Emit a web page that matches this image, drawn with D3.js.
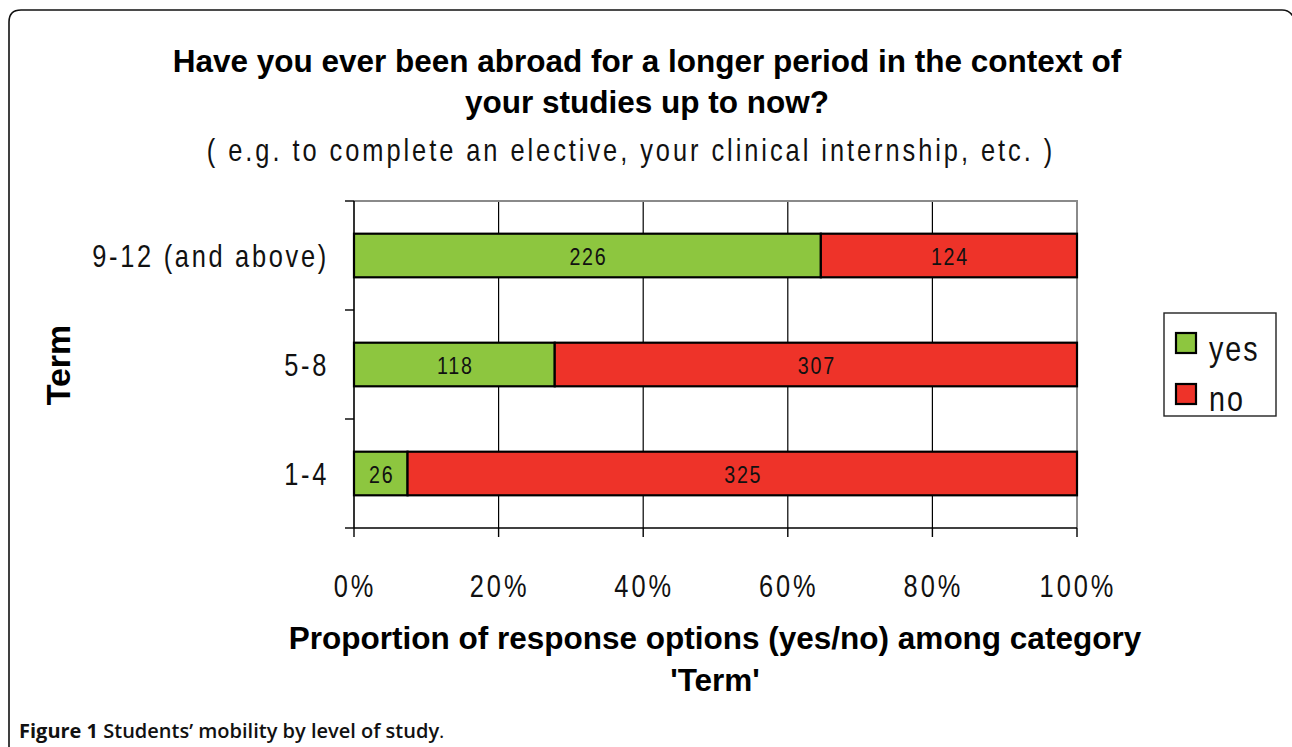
<!DOCTYPE html>
<html>
<head>
<meta charset="utf-8">
<script src="https://cdn.jsdelivr.net/npm/d3@7"></script>
<style>
  body { margin: 0; background: #fff; }
  svg { display: block; font-family: 'Liberation Sans', Arial, sans-serif; }
</style>
</head>
<body>
<svg class="chart" width="1292" height="747"></svg>
<script>
// data, top row first as in the picture
const terms = ['9-12 (and above)', '5-8', '1-4']
const yesCounts = [226, 118, 26]
const noCounts = [124, 307, 325]
const seriesNames = ['yes', 'no']
const seriesColors = ['#8dc63f', '#ee3329']
const xTicks = [0, 0.2, 0.4, 0.6, 0.8, 1]

const svg = d3.select('.chart')

// the chart uses a condensed face; squeeze Liberation Sans to get close
const SQUEEZE = 0.82
const narrowText = (parent, xx, yy, size, ls, anchor, txt) => parent.append('text')
    .attr('transform', `translate(${xx},${yy}) scale(${SQUEEZE},1)`)
    .attr('text-anchor', anchor)
    .attr('font-size', size)
    .attr('letter-spacing', ls)
    .attr('fill', '#111')
    .text(txt)

// outer frame, open at the bottom
svg.append('path')
    .attr('d', 'M9,747 L9,22 Q9,10 21,10 L1282,10 Q1290,10 1294,18')
    .attr('fill', 'none')
    .attr('stroke', '#111')
    .attr('stroke-width', 1.6)

const plot = { left: 354, right: 1077, top: 201, bottom: 528 }

const x = d3.scaleLinear().domain([0, 1]).range([plot.left, plot.right])
const y = d3.scaleBand().domain(terms).range([plot.top, plot.bottom]).paddingInner(0.6).paddingOuter(0.3)
const yOuter = d3.scaleBand().domain(terms).range([plot.top, plot.bottom])

// gridlines
svg.append('g')
    .selectAll('line')
    .data(xTicks.slice(1, -1))
    .enter()
    .append('line')
    .attr('x1', d => x(d)).attr('x2', d => x(d))
    .attr('y1', plot.top).attr('y2', plot.bottom)
    .attr('stroke', '#000').attr('stroke-width', 1.2)

// gray frame top + right
svg.append('path')
    .attr('d', `M${plot.left},${plot.top} L${plot.right},${plot.top} L${plot.right},${plot.bottom}`)
    .attr('fill', 'none').attr('stroke', '#8a8a8a').attr('stroke-width', 2)

// stacked bars
const rows = terms.map((t, i) => {
    const total = yesCounts[i] + noCounts[i]
    return { term: t, parts: [
        { key: 'yes', v: yesCounts[i], x0: 0, x1: yesCounts[i] / total },
        { key: 'no', v: noCounts[i], x0: yesCounts[i] / total, x1: 1 }
    ] }
})

const barG = svg.append('g')
rows.forEach(r => {
    r.parts.forEach((p, j) => {
        barG.append('rect')
            .attr('x', x(p.x0))
            .attr('y', y(r.term))
            .attr('width', x(p.x1) - x(p.x0))
            .attr('height', y.bandwidth())
            .attr('fill', seriesColors[j])
            .attr('stroke', '#000')
            .attr('stroke-width', 2.2)
        narrowText(barG, (x(p.x0) + x(p.x1)) / 2 + 1, y(r.term) + y.bandwidth() / 2 + 9,
            24, 2.1, 'middle', p.v)
    })
})

// y axis
const yAxisG = svg.append('g')
yAxisG.append('line')
    .attr('x1', plot.left).attr('x2', plot.left)
    .attr('y1', plot.top).attr('y2', plot.bottom)
    .attr('stroke', '#000').attr('stroke-width', 1.6)
const yEdges = terms.map(t => yOuter(t)).concat([plot.bottom])
yAxisG.selectAll('.ytick')
    .data(yEdges)
    .enter()
    .append('line')
    .attr('x1', plot.left - 9).attr('x2', plot.left)
    .attr('y1', d => d).attr('y2', d => d)
    .attr('stroke', '#000').attr('stroke-width', 1.4)
terms.forEach(t => {
    narrowText(yAxisG, 329, y(t) + y.bandwidth() / 2 + 11, 31, 3.3, 'end', t)
})

// x axis
const xAxisG = svg.append('g')
xAxisG.append('line')
    .attr('x1', plot.left).attr('x2', plot.right)
    .attr('y1', plot.bottom).attr('y2', plot.bottom)
    .attr('stroke', '#000').attr('stroke-width', 1.6)
xAxisG.selectAll('.xtick')
    .data(xTicks)
    .enter()
    .append('line')
    .attr('x1', d => x(d)).attr('x2', d => x(d))
    .attr('y1', plot.bottom).attr('y2', plot.bottom + 9)
    .attr('stroke', '#000').attr('stroke-width', 1.4)
xTicks.forEach(v => {
    narrowText(xAxisG, x(v) + 1, 597, 31, 3.6, 'middle', d3.format('.0%')(v))
})

// titles
const boldTxt = (t, xx, yy, size) => svg.append('text')
    .attr('x', xx).attr('y', yy)
    .attr('text-anchor', 'middle')
    .attr('font-size', size)
    .attr('font-weight', 'bold')
    .attr('fill', '#000')
    .text(t)

boldTxt('Have you ever been abroad for a longer period in the context of', 647, 72, 31.5)
boldTxt('your studies up to now?', 647, 113, 31.5)
narrowText(svg, 631, 161, 31, 3.6, 'middle',
    '( e.g. to complete an elective, your clinical internship, etc. )')

boldTxt('Proportion of response options (yes/no) among category', 715, 649, 31.5)
boldTxt("'Term'", 715, 691, 31.5)

svg.append('text')
    .attr('transform', 'translate(70,365) rotate(-90)')
    .attr('text-anchor', 'middle')
    .attr('font-size', 34)
    .attr('font-weight', 'bold')
    .text('Term')

// legend
const leg = svg.append('g')
leg.append('rect')
    .attr('x', 1164).attr('y', 313).attr('width', 112).attr('height', 103)
    .attr('fill', '#fff').attr('stroke', '#222').attr('stroke-width', 1.4)
seriesNames.forEach((s, i) => {
    leg.append('rect')
        .attr('x', 1176).attr('y', 333 + i * 51)
        .attr('width', 20).attr('height', 20)
        .attr('fill', seriesColors[i])
        .attr('stroke', '#000').attr('stroke-width', 2.2)
    narrowText(leg, 1209, 361 + i * 50, 35, 2.4, 'start', s)
})

// caption
const cap = svg.append('text')
    .attr('x', 19).attr('y', 738)
    .attr('font-family', "'Open Sans', sans-serif")
    .attr('font-size', 20)
    .attr('fill', '#111')
cap.append('tspan').attr('font-weight', 'bold').text('Figure 1')
cap.append('tspan').attr('font-weight', '600').text(' Students\u2019 mobility by level of study')
cap.append('tspan').text('.')
</script>
</body>
</html>
